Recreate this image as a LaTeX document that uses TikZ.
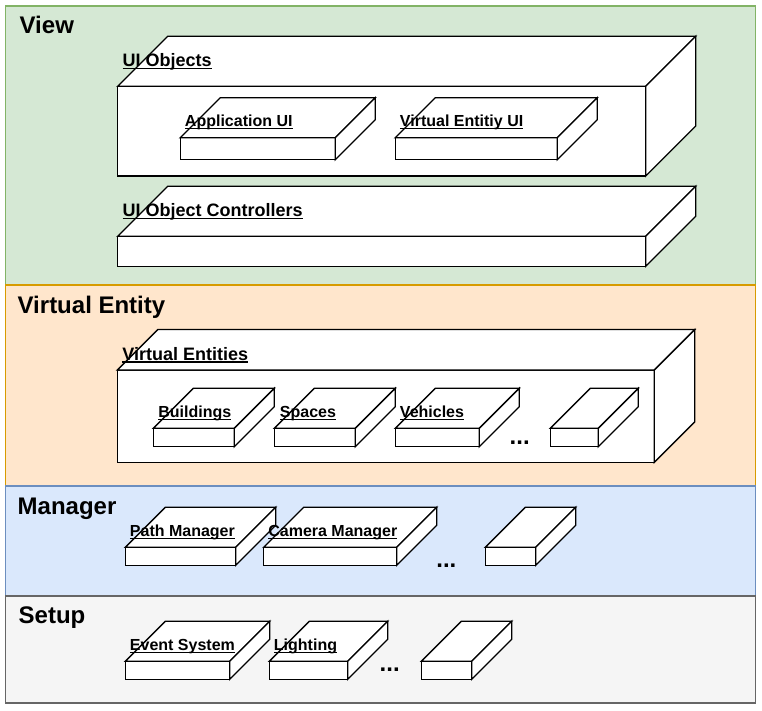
\documentclass[tikz,border=0pt]{standalone}
\usepackage{fontspec}
\setmainfont{Liberation Sans}
\definecolor{vgreenf}{HTML}{D5E8D4}\definecolor{vgreen}{HTML}{82B366}
\definecolor{vorangef}{HTML}{FFE6CC}\definecolor{vorange}{HTML}{D79B00}
\definecolor{vbluef}{HTML}{DAE8FC}\definecolor{vblue}{HTML}{6C8EBF}
\definecolor{vgreyf}{HTML}{F5F5F5}\definecolor{vgrey}{HTML}{666666}
\newcommand\ulab[1]{\setbox0=\hbox{#1}\rlap{\rule[-2pt]{\wd0}{0.9pt}}\box0}
\newcommand\pbox[5]{%
  \draw[cube] (#1,#2) rectangle (#3,#4);
  \draw[cube] (#1,#2) -- ++(#5,-#5) -- ++({#3-#1},0) -- (#3,#2) -- cycle;
  \draw[cube] (#3,#2) -- ++(#5,-#5) -- ++(0,{#4-#2}) -- (#3,#4) -- cycle;
}
\begin{document}
\begin{tikzpicture}[x=0.75pt,y=-0.75pt,line width=1pt,
  cube/.style={draw=black,fill=white,line join=miter,line width=1pt},
  lbl/.style={font=\bfseries\fontsize{12}{14}\selectfont,anchor=base west,inner sep=0pt},
  biglbl/.style={font=\bfseries\fontsize{13.5}{16}\selectfont,anchor=base west,inner sep=0pt},
  ttl/.style={font=\bfseries\fontsize{18}{21}\selectfont,anchor=base west,inner sep=0pt},
  dotsty/.style={font=\bfseries\fontsize{18}{21}\selectfont,anchor=base west,inner sep=0pt}]
\useasboundingbox (0,0) rectangle (762,710);
% layers
\draw[draw=vgreen,fill=vgreenf] (5.5,6) rectangle (755.5,285);
\draw[draw=vorange,fill=vorangef] (5.5,285) rectangle (755.5,486);
\draw[draw=vblue,fill=vbluef] (5.5,486) rectangle (755.5,596);
\draw[draw=vgrey,fill=vgreyf] (5.5,596) rectangle (755.5,703);
\node[ttl] (tView) at (19,33.3) {View};
\node[ttl] (tVE) at (17,313) {Virtual Entity};
\node[ttl] (tMgr) at (17,514) {Manager};
\node[ttl] (tSetup) at (18,623) {Setup};
% View
\pbox{117.7}{86.3}{645.7}{176}{50}
\node[biglbl] (uiobj) at (122,66.7) {\ulab{UI Objects}};
\pbox{180.3}{137.7}{335.3}{159.7}{40}
\node[lbl] (appui) at (184.3,126.7) {\ulab{Application UI}};
\pbox{395.3}{137.7}{557.3}{159.7}{40}
\node[lbl] (veui) at (399.3,126.7) {\ulab{Virtual Entitiy UI}};
\pbox{117.7}{236.3}{645.7}{266.3}{50}
\node[biglbl] (uictl) at (122,216.7) {\ulab{UI Object Controllers}};
% Virtual Entity
\pbox{117.3}{370}{654.3}{462.3}{40.5}
\node[biglbl] (vents) at (121.7,360) {\ulab{Virtual Entities}};
\pbox{153.3}{428.3}{234.3}{446.7}{40}
\node[lbl] (bld) at (157.7,417.3) {\ulab{Buildings}};
\pbox{274.3}{428.3}{355.3}{446.7}{40}
\node[lbl] (spc) at (279.3,417.3) {\ulab{Spaces}};
\pbox{395.3}{428.3}{479.3}{446.7}{40}
\node[lbl] (veh) at (399.3,417.3) {\ulab{Vehicles}};
\node[dotsty] (vedots) at (509,444.5) {...};
\pbox{550.3}{428.3}{598.3}{446.7}{40}
% Manager
\pbox{125.3}{547.3}{235.7}{565.3}{40}
\node[lbl] (pathm) at (129.3,536.7) {\ulab{Path Manager}};
\pbox{263.7}{547.3}{396.7}{565.3}{40}
\node[lbl] (camm) at (267.7,536.7) {\ulab{Camera Manager}};
\node[dotsty] (mdots) at (435.7,567) {...};
\pbox{485.3}{547.3}{535.7}{565.3}{40}
% Setup
\pbox{125.3}{661.3}{229.7}{679.3}{40}
\node[lbl] (evs) at (129.3,650.7) {\ulab{Event System}};
\pbox{269.3}{661.3}{347.7}{679.3}{40}
\node[lbl] (lgt) at (273.3,650.7) {\ulab{Lighting}};
\node[dotsty] (sdots) at (379,671.5) {...};
\pbox{421.3}{661.3}{471.7}{679.3}{40}
\end{tikzpicture}
\end{document}
